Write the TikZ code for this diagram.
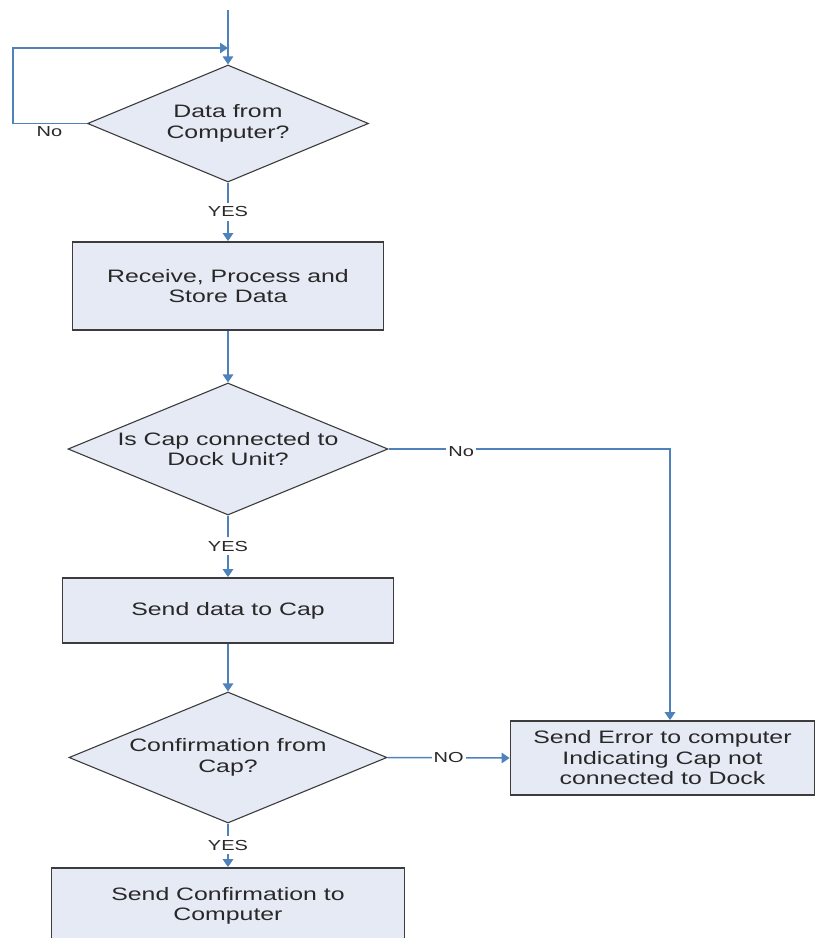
\documentclass[tikz,border=0pt]{standalone}
\usepackage{fontspec}
\newfontfamily\chartfont[FakeStretch=1.38]{Liberation Sans}
\usetikzlibrary{shapes.geometric,arrows.meta}
\definecolor{flowblue}{RGB}{79,129,189}
\definecolor{boxfill}{RGB}{229,234,245}
\definecolor{edgegray}{RGB}{60,60,60}
\definecolor{inkgray}{RGB}{40,40,40}

\begin{document}
\begin{tikzpicture}[x=1pt,y=-1pt,
  bodyfont/.style={font=\chartfont\fontsize{18}{20.5}\selectfont},
  decision/.style={shape=diamond, aspect=2.42, draw=edgegray, line width=1.1pt, fill=boxfill,
    inner sep=0pt, align=center, text=inkgray, bodyfont},
  process/.style={rectangle, draw=edgegray, line width=1.8pt, fill=boxfill,
    inner sep=0pt, align=center, text=inkgray, bodyfont},
  wire/.style={draw=flowblue, line width=1.5pt},
  flow/.style={wire, -{Triangle[length=8pt,width=10.5pt]}},
  tagfree/.style={font=\chartfont\fontsize{14.5}{16}\selectfont, text=inkgray, inner sep=1pt},
  tag/.style={tagfree, fill=white, inner xsep=2pt, inner ysep=4pt}
]
\clip (0,0) rectangle (816,938);

% decisions and process steps (main column at x = 228)
\node[decision, minimum width=281pt, minimum height=117pt] (d1) at (228,123.5) {Data from\\Computer?};
\node[process, minimum width=311pt, minimum height=88pt] (b1) at (228,286) {Receive, Process and\\Store Data};
\node[decision, minimum width=320pt, minimum height=132pt] (d2) at (228,449) {Is Cap connected to\\Dock Unit?};
\node[process, minimum width=331pt, minimum height=65pt] (b2) at (228,610.5) {Send data to Cap};
\node[decision, minimum width=318pt, minimum height=131pt] (d3) at (228,757.5) {Confirmation from\\Cap?};
\node[process, minimum width=304pt, minimum height=74pt] (err) at (662.5,758) {Send Error to computer\\Indicating Cap not\\connected to Dock};
\node[process, minimum width=353pt, minimum height=76pt] (b4) at (228,906) {Send Confirmation to\\Computer};

% helper points
\coordinate (entry) at (228,10);
\coordinate (join) at (228,48);
\coordinate (loopturn) at (13,48);

% incoming line and the wait loop
\draw[flow] (entry) -- (d1.north);
\draw[flow] (d1.west) -| (loopturn) -- (join);
\node[tagfree] (no1) at (49.5,132) {No};

% main sequence
\draw[flow] (d1.south) -- node[tag] (yes1) {YES} (b1.north);
\draw[flow] (b1.south) -- (d2.north);
\draw[flow] (d2.south) -- node[tag] (yes2) {YES} (b2.north);
\draw[flow] (b2.south) -- (d3.north);
\draw[flow] (d3.south) -- node[tag] (yes3) {YES} (b4.north);

% error branches
\draw[flow] (d2.east) -| node[tag, pos=0.129, yshift=-3pt] (no2) {No} ([xshift=7.5pt]err.north);
\draw[flow] (d3.east) -- node[tag] (no3) {NO} (err.west);
\end{tikzpicture}
\end{document}
